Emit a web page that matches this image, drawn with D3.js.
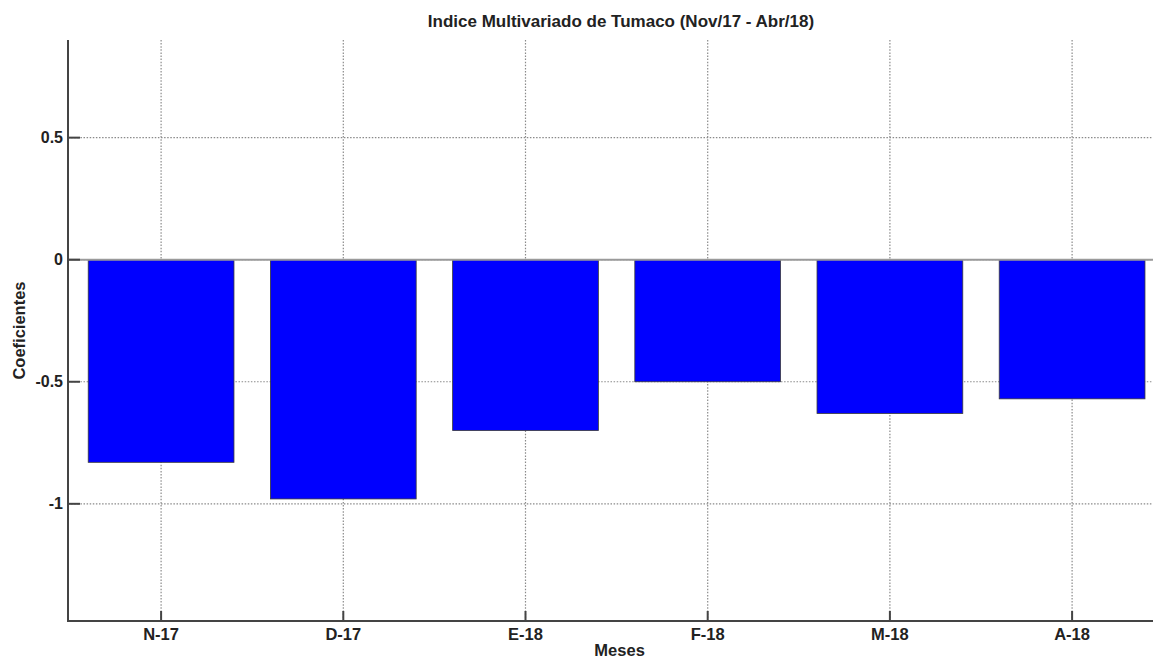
<!DOCTYPE html>
<html>
<head>
<meta charset="utf-8">
<script src="https://cdn.jsdelivr.net/npm/d3@7"></script>
<style>
  body { margin: 0; background: #fff; }
  text { font-family: "Liberation Sans", Arial, sans-serif; font-weight: bold; fill: #222; }
</style>
</head>
<body>
<svg id="chart"></svg>
<script>
const width = 1153;
const height = 658;

const meses = ["N-17", "D-17", "E-18", "F-18", "M-18", "A-18"];
const coeficientes = [-0.83, -0.98, -0.70, -0.50, -0.63, -0.57];
const yTicks = [-1, -0.5, 0, 0.5];
const yTickLabels = ["-1", "-0.5", "0", "0.5"];

const svg = d3.select("#chart")
    .attr("width", width)
    .attr("height", height);

const axLeft = 68, axTop = 40, axBottom = 621;

// bar positions are 1..6 like matlab, xlim [0.5, 6.5]
const x = d3.scaleLinear().domain([0.5, 6.5]).range([70, 70 + 6 * 182.2]);
const y = d3.scaleLinear().domain([-1.48, 0.9]).range([axBottom, axTop]);

const grid = svg.append("g")
    .attr("stroke", "#8a8a8a")
    .attr("stroke-width", 1.2)
    .attr("stroke-dasharray", "1.5,1.6");

grid.selectAll(".vgrid")
    .data(meses)
    .enter().append("line")
    .attr("x1", (d, i) => x(i + 1))
    .attr("x2", (d, i) => x(i + 1))
    .attr("y1", axTop)
    .attr("y2", axBottom);

grid.selectAll(".hgrid")
    .data(yTicks)
    .enter().append("line")
    .attr("x1", axLeft)
    .attr("x2", width)
    .attr("y1", d => y(d))
    .attr("y2", d => y(d));

// bars
svg.append("g")
    .selectAll("rect")
    .data(coeficientes)
    .enter().append("rect")
    .attr("x", (d, i) => x(i + 1 - 0.4))
    .attr("width", x(0.8) - x(0))
    .attr("y", d => y(Math.max(0, d)))
    .attr("height", d => Math.abs(y(d) - y(0)))
    .attr("fill", "#0000ff")
    .attr("stroke", "#3a3a3a")
    .attr("stroke-width", 0.8);

// baseline at zero
svg.append("line")
    .attr("x1", axLeft)
    .attr("x2", width)
    .attr("y1", y(0))
    .attr("y2", y(0))
    .attr("stroke", "#9a9a9a")
    .attr("stroke-width", 2);

// y axis
const yAxis = svg.append("g");
yAxis.append("line")
    .attr("x1", axLeft).attr("x2", axLeft)
    .attr("y1", axTop).attr("y2", axBottom)
    .attr("stroke", "#444").attr("stroke-width", 2);
yAxis.selectAll(".tick")
    .data(yTicks)
    .enter().append("line")
    .attr("x1", axLeft).attr("x2", axLeft + 12)
    .attr("y1", d => y(d)).attr("y2", d => y(d))
    .attr("stroke", "#444").attr("stroke-width", 2);
yAxis.selectAll("text")
    .data(yTicks)
    .enter().append("text")
    .attr("x", axLeft - 5)
    .attr("y", d => y(d))
    .attr("dy", "0.35em")
    .attr("text-anchor", "end")
    .attr("font-size", 16)
    .text((d, i) => yTickLabels[i]);

// x axis
const xAxis = svg.append("g");
xAxis.append("line")
    .attr("x1", axLeft - 1).attr("x2", width)
    .attr("y1", axBottom).attr("y2", axBottom)
    .attr("stroke", "#444").attr("stroke-width", 2);
xAxis.selectAll(".tick")
    .data(meses)
    .enter().append("line")
    .attr("x1", (d, i) => x(i + 1)).attr("x2", (d, i) => x(i + 1))
    .attr("y1", axBottom).attr("y2", axBottom - 10)
    .attr("stroke", "#444").attr("stroke-width", 2);
xAxis.selectAll("text")
    .data(meses)
    .enter().append("text")
    .attr("x", (d, i) => x(i + 1))
    .attr("y", axBottom + 19)
    .attr("text-anchor", "middle")
    .attr("font-size", 16.5)
    .text(d => d);

svg.append("text")
    .attr("x", x(3.5) + 3)
    .attr("y", 656)
    .attr("text-anchor", "middle")
    .attr("font-size", 16.5)
    .text("Meses");

svg.append("text")
    .attr("transform", "translate(25," + (y(-0.29)) + ") rotate(-90)")
    .attr("text-anchor", "middle")
    .attr("font-size", 16.5)
    .text("Coeficientes");

svg.append("text")
    .attr("x", 621)
    .attr("y", 27)
    .attr("text-anchor", "middle")
    .attr("font-size", 17)
    .text("Indice Multivariado de Tumaco (Nov/17 - Abr/18)");
</script>
</body>
</html>
